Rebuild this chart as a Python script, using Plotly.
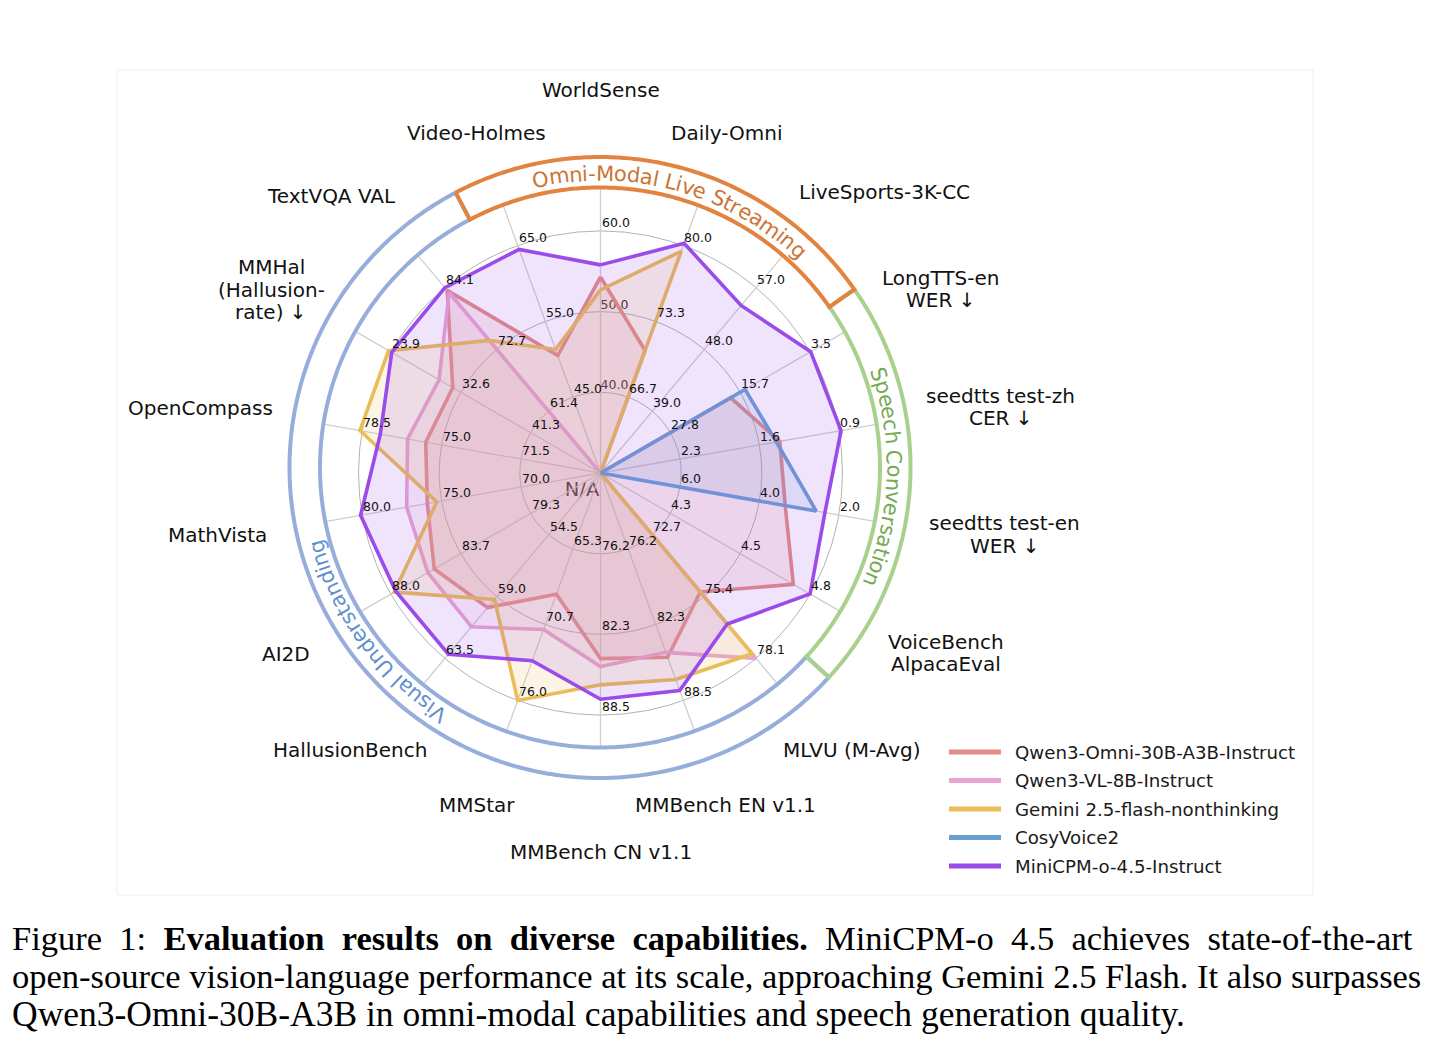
import math
import plotly.graph_objects as go

# ---------------- data ----------------
AXES = ["WorldSense", "Daily-Omni", "LiveSports-3K-CC", "LongTTS-en\nWER ↓",
        "seedtts test-zh\nCER ↓", "seedtts test-en\nWER ↓", "VoiceBench\nAlpacaEval",
        "MLVU (M-Avg)", "MMBench EN v1.1", "MMBench CN v1.1", "MMStar",
        "HallusionBench", "AI2D", "MathVista", "OpenCompass",
        "MMHal\n(Hallusion-\nrate) ↓", "TextVQA VAL", "Video-Holmes"]

TICK_LABELS = [
    ["40.0", "50.0", "60.0"], ["66.7", "73.3", "80.0"], ["39.0", "48.0", "57.0"],
    ["27.8", "15.7", "3.5"], ["2.3", "1.6", "0.9"], ["6.0", "4.0", "2.0"],
    ["4.3", "4.5", "4.8"], ["72.7", "75.4", "78.1"], ["76.2", "82.3", "88.5"],
    ["76.2", "82.3", "88.5"], ["65.3", "70.7", "76.0"], ["54.5", "59.0", "63.5"],
    ["79.3", "83.7", "88.0"], ["70.0", "75.0", "80.0"], ["71.5", "75.0", "78.5"],
    ["41.3", "32.6", "23.9"], ["61.4", "72.7", "84.1"], ["45.0", "55.0", "65.0"],
]

SERIES = ["Qwen3-Omni-30B-A3B-Instruct", "Qwen3-VL-8B-Instruct",
          "Gemini 2.5-flash-nonthinking", "CosyVoice2", "MiniCPM-o-4.5-Instruct"]

qwen3_omni = [54.3, 70.8, None, 17.3, 1.42, 3.35, 4.74, 75.2, 85.0, 84.2,
              68.5, 59.8, 85.3, 75.9, 75.7, 31.6, 83.6, 50.5]
qwen3_vl = [None, None, None, None, None, None, None, 78.1, 84.6, 84.8,
            71.0, 61.2, 85.7, 77.2, 76.5, 29.9, 83.2, None]
gemini = [52.7, 79.5, None, None, None, None, None, 77.9, 86.8, 86.2,
          76.0, 59.2, 87.8, 75.3, 78.6, 23.6, 74.4, 51.3]
cosyvoice2 = [None, None, None, 14.8, 1.45, 2.57, None, None, None, None,
              None, None, None, None, None, None, None, None]
minicpm = [55.8, 80.2, 54.4, 3.4, 0.88, 2.35, 4.80, 76.6, 87.7, 87.3,
           73.2, 63.2, 87.7, 80.1, 77.7, 24.0, 84.1, 64.5]
VALUES = [qwen3_omni, qwen3_vl, gemini, cosyvoice2, minicpm]

GROUPS = ["Omni-Modal Live Streaming", "Speech Conversation", "Visual Understanding"]

CAPTION = ["Figure&nbsp; 1:&nbsp; <b>Evaluation&nbsp; results&nbsp; on&nbsp; diverse&nbsp; capabilities.</b>&nbsp; "
           "MiniCPM-o&nbsp; 4.5&nbsp; achieves&nbsp; state-of-the-art",
           "open-source vision-language performance at its scale, approaching Gemini 2.5 Flash. It also surpasses",
           "Qwen3-Omni-30B-A3B in omni-modal capabilities and speech generation quality."]
CAPTION_SIZES = [34.5, 34.5, 35.5]

# ---------------- styling / layout ----------------
W, H = 1430, 1046
OFF = 8.0                      # page body margin in the browser
CX, CY = 600.5, 473.0          # data centre (reference px)
BX, BY = 600.0, 467.5          # group band centre (reference px)
RMAX = 420.0
RMAX2 = 330.0
R_RING = 242.0
R1 = R_RING / 3.0
R_IN, R_OUT, R_TXT = 280.0, 310.5, 294.0

COLORS = ["#E38A85", "#E8A5D2", "#E9BE58", "#6A9FD3", "#9A4BEA"]
FILL_ALPHA = 0.15
GROUP_SPANS = [(117.7, 35.0), (35.0, -42.5), (-42.5, -242.3)]
GROUP_TXT_CENTER = [74.8, -2.0, -143.8]
BAND_COLORS = ["#E2843F", "#A9D18E", "#97AEDC"]
TEXT_COLORS = ["#CD7434", "#74AA52", "#5F8FCC"]
LABEL_POS = [(383, 90), (362.4, 69.7), (399.9, 44.65), (387, 28.4), (405.9, 9.36),
             (408.2, -8.67), (389.6, -27.5), (374.1, -47.76), (354.9, -69.3),
             (379, -90), (354.2, -110.4), (373.5, -132.1), (362.9, -150.1),
             (387.5, -170.8), (404.8, 170.76), (377.1, 150.9), (386.5, 134.2),
             (361.7, 110)]
FONT = "DejaVu Sans"
W_EM = {'O': .787, 'm': .974, 'n': .634, 'i': .278, '-': .361, 'M': .863, 'o': .612,
        'd': .635, 'a': .613, 'l': .278, ' ': .318, 'L': .557, 'v': .592, 'e': .615,
        'S': .635, 't': .392, 'r': .411, 'g': .635, 'p': .635, 'c': .550, 'h': .634,
        'C': .698, 's': .521, 'V': .684, 'u': .634, 'U': .732}

N = len(AXES)
ANGLES = [90 - 20 * i for i in range(N)]


def rgba(hexc, a):
    h = hexc.lstrip('#')
    return "rgba(%d,%d,%d,%g)" % (int(h[0:2], 16), int(h[2:4], 16), int(h[4:6], 16), a)


def value_to_r(v, ticks):
    if v is None:
        return 0.0
    lo, hi = float(ticks[0]), float(ticks[2])
    return R1 * (1 + 2 * (v - lo) / (hi - lo))


def px(x, y):
    return (x - OFF) / W, 1 - (y - OFF) / H


def to_paper(r, deg, cx=CX, cy=CY):
    a = math.radians(deg)
    return px(cx + r * math.cos(a), cy - r * math.sin(a))


fig = go.Figure()

# labels that sit underneath the fills (they appear faded in the figure)
fig.add_trace(go.Scatterpolar(
    r=[R1, 2 * R1, 25.8], theta=[ANGLES[0], ANGLES[0], -135.8],
    text=[TICK_LABELS[0][0], TICK_LABELS[0][1], "N/A"], mode="text",
    textposition=["top right", "top right", "middle center"],
    textfont=dict(family=FONT, size=[12.5, 12.5, 19.5], color="#111111"),
    showlegend=False, hoverinfo="skip", subplot="polar"))

# spokes (from data centre to band inner circle)
ox, oy = (CX - BX), -(CY - BY)
sp_r, sp_t = [], []
for ang in ANGLES:
    ux, uy = math.cos(math.radians(ang)), math.sin(math.radians(ang))
    d = ox * ux + oy * uy
    t = -d + math.sqrt(d * d - (ox * ox + oy * oy) + R_IN * R_IN)
    sp_r += [0, t, None]
    sp_t += [ang, ang, None]
fig.add_trace(go.Scatterpolar(r=sp_r, theta=sp_t, mode="lines",
                              line=dict(color="#cfcfcf", width=1.3),
                              showlegend=False, hoverinfo="skip", subplot="polar"))

# series
for name, vals, col in zip(SERIES, VALUES, COLORS):
    rr = [value_to_r(v, TICK_LABELS[i]) for i, v in enumerate(vals)]
    fig.add_trace(go.Scatterpolar(
        r=rr + [rr[0]], theta=ANGLES + [ANGLES[0]], mode="lines",
        fill="toself", fillcolor=rgba(col, FILL_ALPHA),
        line=dict(color=col, width=3.6), name=name, showlegend=False,
        subplot="polar"))

# group bands (blue, green, orange order so orange/green sit on top)
for gi in [2, 1, 0]:
    a0, a1 = GROUP_SPANS[gi]
    n = int(abs(a0 - a1) / 0.5) + 1
    th = [a0 + (a1 - a0) * k / (n - 1) for k in range(n)]
    r_path = [R_OUT] * n + [R_IN] * n + [R_OUT]
    t_path = th + th[::-1] + [th[0]]
    fig.add_trace(go.Scatterpolar(r=r_path, theta=t_path, mode="lines",
                                  line=dict(color=BAND_COLORS[gi], width=4),
                                  showlegend=False, hoverinfo="skip", subplot="polar2"))

ann = []
# tick labels
for i, ang in enumerate(ANGLES):
    for k in range(3):
        if i == 0 and k < 2:
            continue
        x, y = to_paper(R1 * (k + 1), ang)
        ann.append(dict(x=x, y=y, xref="paper", yref="paper", text=TICK_LABELS[i][k],
                        showarrow=False, xanchor="left", yanchor="bottom",
                        font=dict(family=FONT, size=12.5, color="#111111"),
                        borderpad=0))

# axis labels
LINE_H = 22.5
for i, lab in enumerate(AXES):
    lines = lab.split("\n")
    r, a = LABEL_POS[i]
    x0 = CX + r * math.cos(math.radians(a))
    y0 = CY - r * math.sin(math.radians(a))
    for j, ln in enumerate(lines):
        yy = y0 + (j - (len(lines) - 1) / 2) * LINE_H
        x, y = px(x0, yy)
        ann.append(dict(x=x, y=y, xref="paper", yref="paper", text=ln,
                        showarrow=False, xanchor="center", yanchor="middle",
                        font=dict(family=FONT, size=20, color="#111111")))

# curved group titles
GFS = 21.0
for gi, txt in enumerate(GROUPS):
    widths = [W_EM.get(ch, 0.6) * GFS for ch in txt]
    total = sum(widths) / R_TXT * 180 / math.pi
    start = GROUP_TXT_CENTER[gi] + total / 2
    cum = 0.0
    for ch, w in zip(txt, widths):
        phi = start - (cum + w / 2) / R_TXT * 180 / math.pi
        cum += w
        if ch == " ":
            continue
        x, y = to_paper(R_TXT, phi, BX, BY)
        rot = 90 - phi
        while rot > 180:
            rot -= 360
        while rot <= -180:
            rot += 360
        ann.append(dict(x=x, y=y, xref="paper", yref="paper", text=ch, showarrow=False,
                        xanchor="center", yanchor="middle", textangle=rot,
                        font=dict(family=FONT, size=GFS, color=TEXT_COLORS[gi])))

# legend (manual)
shapes = []
LEG_X0, LEG_X1, LEG_TX, LEG_Y0, LEG_DY = 949, 1001, 1013, 752, 28.5
for i, (name, col) in enumerate(zip(SERIES, COLORS)):
    yy = LEG_Y0 + i * LEG_DY
    xa, ya = px(LEG_X0, yy)
    xb, _ = px(LEG_X1, yy)
    shapes.append(dict(type="line", xref="paper", yref="paper",
                       x0=xa, x1=xb, y0=ya, y1=ya, line=dict(color=col, width=5)))
    xt, _ = px(LEG_TX, yy)
    ann.append(dict(x=xt, y=ya, xref="paper", yref="paper", text=name,
                    showarrow=False, xanchor="left", yanchor="middle",
                    font=dict(family=FONT, size=18.2, color="#1a1a1a")))

# faint frame
fx0, fy0 = px(117, 895)
fx1, fy1 = px(1313, 70)
shapes.append(dict(type="rect", xref="paper", yref="paper", x0=fx0, x1=fx1,
                   y0=fy0, y1=fy1, line=dict(color="#eeeeee", width=1)))

# caption
for j, ln in enumerate(CAPTION):
    x, y = px(10, 938 + 38 * j)
    ann.append(dict(x=x, y=y, xref="paper", yref="paper", text=ln,
                    showarrow=False, xanchor="left", yanchor="middle",
                    font=dict(family="Liberation Serif", size=CAPTION_SIZES[j],
                              color="#000000")))

pcx, pcy = px(CX, CY)
bcx, bcy = px(BX, BY)
fig.update_layout(
    width=W, height=H, autosize=False, margin=dict(l=0, r=0, t=0, b=0),
    paper_bgcolor="white", plot_bgcolor="white", showlegend=False,
    polar=dict(
        domain=dict(x=[pcx - RMAX / W, pcx + RMAX / W],
                    y=[pcy - RMAX / H, pcy + RMAX / H]),
        bgcolor="rgba(0,0,0,0)",
        radialaxis=dict(range=[0, RMAX], tickvals=[R1, 2 * R1, 3 * R1], showticklabels=False,
                        ticks="", showline=False, gridcolor="#b3b3b3", gridwidth=1.2),
        angularaxis=dict(showgrid=False, showticklabels=False, ticks="", showline=False,
                         rotation=0, direction="counterclockwise", thetaunit="degrees"),
    ),
    polar2=dict(
        domain=dict(x=[bcx - RMAX2 / W, bcx + RMAX2 / W],
                    y=[bcy - RMAX2 / H, bcy + RMAX2 / H]),
        bgcolor="rgba(0,0,0,0)",
        radialaxis=dict(range=[0, RMAX2], visible=False, showgrid=False),
        angularaxis=dict(visible=False, showgrid=False, rotation=0,
                         direction="counterclockwise"),
    ),
    annotations=ann, shapes=shapes,
)

fig.write_html("out.html", config={"displayModeBar": False})
